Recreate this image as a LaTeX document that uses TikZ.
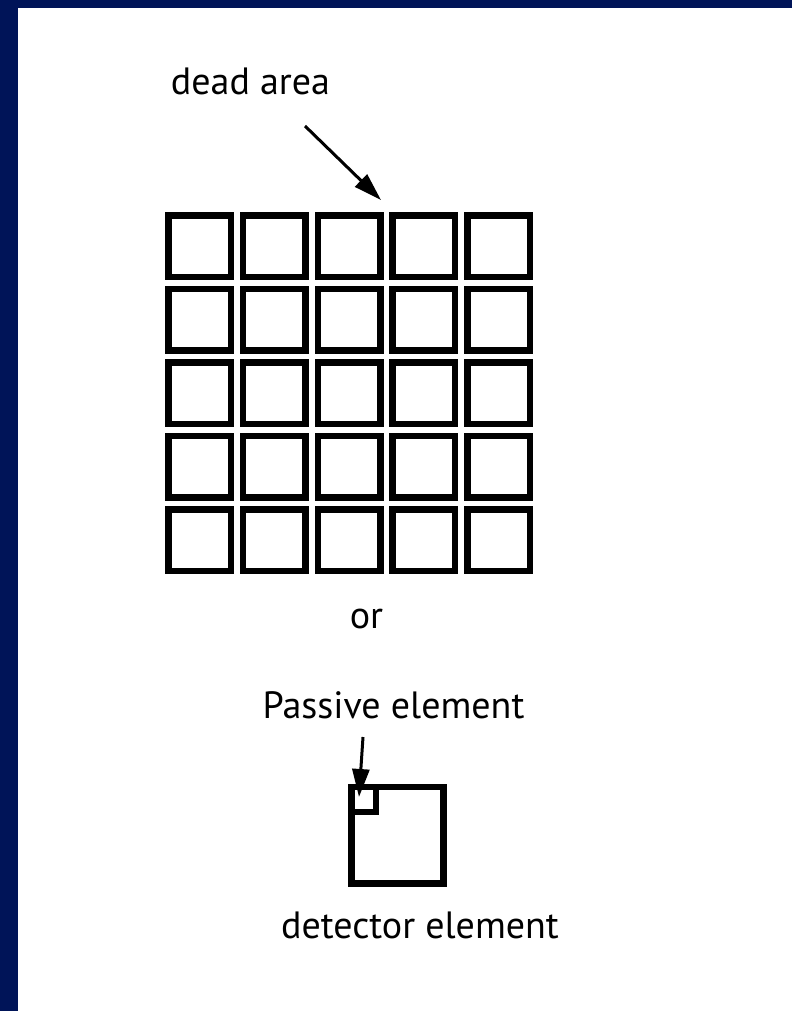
\documentclass[tikz,border=0pt]{standalone}
\usepackage{fontspec}
\setmainfont{PT Sans}
\usetikzlibrary{arrows.meta}
\definecolor{navy}{RGB}{0,20,88}
\tikzset{
  cell/.style={draw=black, line width=6.5pt, minimum width=62.5pt, minimum height=61.5pt, inner sep=0pt, outer sep=0pt},
  lbl/.style={anchor=base, inner sep=0pt, font=\fontsize{38}{42}\selectfont},
  pointer/.style={line width=3pt, -{Triangle[length=28pt,width=17pt]}}
}
\begin{document}
\begin{tikzpicture}[x=1pt,y=-1pt]
\useasboundingbox (0,0) rectangle (792,1011);
\fill[white] (0,0) rectangle (792,1011);
\fill[navy] (0,0) rectangle (18,1011);
\fill[navy] (0,0) rectangle (792,8);
% grid
\foreach \i in {0,...,4}{
  \foreach \j in {0,...,4}{
    \node[cell] (c-\i-\j) at ({199.5+74.75*\i},{246+73.5*\j}) {};
  }
}
\node[lbl] (dead) at (250.5,95) {dead area};
\coordinate (deadstart) at (305,126);
\coordinate (deadtip) at (381,200);
\draw[pointer] (deadstart) -- (deadtip);
\node[lbl] (or) at (366.5,628) {or};
\node[lbl] (passlbl) at (393.5,718) {Passive element};
\node[draw=black, line width=6.5pt, minimum width=91.7pt, minimum height=96.3pt, inner sep=0pt, anchor=north west] (det) at (348.3,783.7) {};
\node[draw=black, line width=6pt, minimum width=24.7pt, minimum height=25.3pt, inner sep=0pt, anchor=north west] (passive) at (348.3,783.7) {};
\coordinate (passstart) at (363,737);
\coordinate (passtip) at (359,797);
\draw[pointer] (passstart) -- (passtip);
\node[lbl] (detlbl) at (420,938) {detector element};
\end{tikzpicture}
\end{document}
